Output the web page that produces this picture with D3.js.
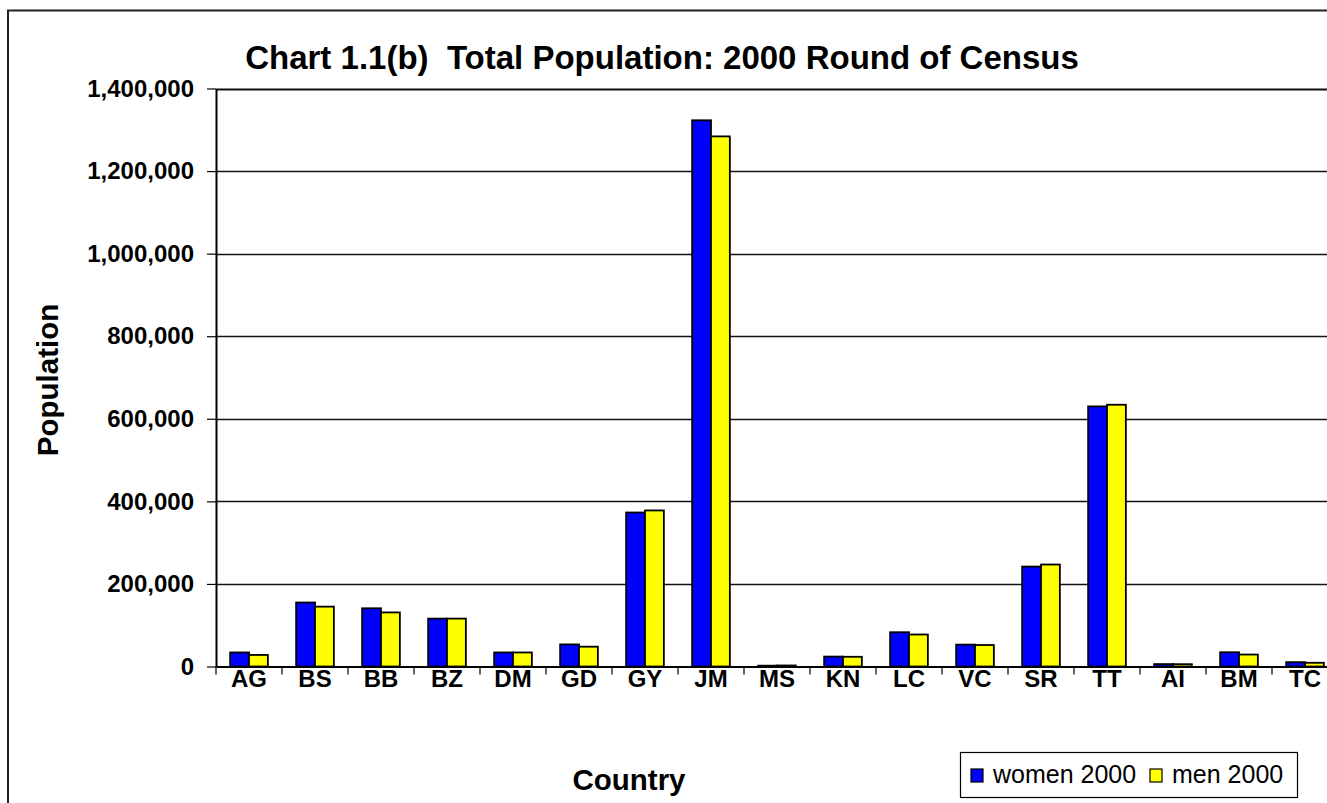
<!DOCTYPE html>
<html><head><meta charset="utf-8">
<script src="https://cdn.jsdelivr.net/npm/d3@7"></script>
<style>body{margin:0;background:#fff;} svg{display:block;font-family:Arial,"Liberation Sans",sans-serif;}</style>
</head><body>
<svg id="c" width="1327" height="803"></svg>
<script>
const categories = ["AG","BS","BB","BZ","DM","GD","GY","JM","MS","KN","LC","VC","SR","TT","AI","BM","TC"];
const women2000 = [34000,155000,141000,116000,34000,53500,373000,1323000,2000,24000,83000,53000,242000,630000,5800,34500,10500];
const men2000   = [28000,145000,131000,116000,34000,48000,378000,1284000,2500,23500,77500,52000,247000,634000,5600,29000,9000];
const seriesNames = ["women 2000","men 2000"];
const seriesColors = ["#0000FF","#FFFF00"];
const yTicks = [0,200000,400000,600000,800000,1000000,1200000,1400000];

const FONT = "Arial, 'Liberation Sans', sans-serif";
const svg = d3.select("#c");
const L = 216, R = 1338, T = 88.5, B = 666.5;

// outer border
svg.append("rect").attr("x",8).attr("y",10.5).attr("width",1340).attr("height",820)
  .attr("fill","none").attr("stroke","#222").attr("stroke-width",2);

const x0 = d3.scaleBand().domain(categories).range([L,R]).padding(0);
const x1 = d3.scaleBand().domain(seriesNames).range([0,x0.bandwidth()]).paddingInner(0).paddingOuter(0.75);
const y = d3.scaleLinear().domain([0,1400000]).range([B,T]);

// gridlines
svg.append("g").selectAll("line").data(yTicks.slice(1)).join("line")
  .attr("x1",L).attr("x2",R).attr("y1",d=>Math.round(y(d))+0.5).attr("y2",d=>Math.round(y(d))+0.5)
  .attr("stroke","#111").attr("stroke-width",d=>d===1400000?2:1.3);

// bars
const data = categories.map((c,i)=>({c, vals:[women2000[i],men2000[i]]}));
const g = svg.append("g").selectAll("g").data(data).join("g")
  .attr("transform",d=>`translate(${x0(d.c)},0)`);
g.selectAll("rect").data(d=>d.vals.map((v,j)=>({v,j}))).join("rect")
  .attr("x",d=>x1(seriesNames[d.j])).attr("width",x1.bandwidth())
  .attr("y",d=>y(d.v)).attr("height",d=>B-y(d.v))
  .attr("fill",d=>seriesColors[d.j]).attr("stroke","#000").attr("stroke-width",1.8);

// y axis
const yAxis = d3.axisLeft(y).tickValues(yTicks).tickFormat(d3.format(",")).tickSize(9).tickSizeOuter(0);
const ya = svg.append("g").attr("transform",`translate(${L},0)`).call(yAxis);
ya.select(".domain").attr("stroke","#000").attr("stroke-width",2);
ya.selectAll(".tick line").attr("stroke","#000").attr("stroke-width",1.2);
ya.selectAll("text").attr("font-size",24).attr("font-weight","bold").attr("fill","#000")
  .attr("x",-22).attr("font-family",FONT);

// x axis
const xAxis = d3.axisBottom(x0).tickSize(0).tickSizeOuter(0);
const xa = svg.append("g").attr("transform",`translate(0,${B})`).call(xAxis);
xa.select(".domain").attr("stroke","#000").attr("stroke-width",2);
xa.selectAll("text").attr("font-size",24).attr("font-weight","bold").attr("fill","#000")
  .attr("y",20).attr("dy",0).attr("font-family",FONT);
// tick marks at category boundaries
svg.append("g").selectAll("line").data(d3.range(categories.length+1)).join("line")
  .attr("x1",i=>L+i*x0.step()).attr("x2",i=>L+i*x0.step())
  .attr("y1",B).attr("y2",B+8).attr("stroke","#000").attr("stroke-width",1.2);

// titles
svg.append("text").attr("x",662).attr("y",69).attr("text-anchor","middle")
  .attr("font-size",33).attr("font-weight","bold").text("Chart 1.1(b)  Total Population: 2000 Round of Census")
  .style("white-space","pre");
svg.append("text").attr("transform","translate(58,380) rotate(-90)").attr("text-anchor","middle")
  .attr("font-size",29.5).attr("font-weight","bold").text("Population");
svg.append("text").attr("x",629).attr("y",790).attr("text-anchor","middle")
  .attr("font-size",29.5).attr("font-weight","bold").text("Country");

// legend
const lg = svg.append("g").attr("transform","translate(960,752)");
lg.append("rect").attr("x",0.5).attr("y",0.5).attr("width",337).attr("height",45).attr("fill","#fff").attr("stroke","#000").attr("stroke-width",1.2);
const lx = [11, 190];
const items = lg.selectAll("g").data(seriesNames).join("g").attr("transform",(d,i)=>`translate(${lx[i]},0)`);
items.append("rect").attr("x",0).attr("y",17).attr("width",12).attr("height",13)
  .attr("fill",(d,i)=>seriesColors[i]).attr("stroke","#000").attr("stroke-width",1.2);
items.append("text").attr("x",22).attr("y",31).attr("font-size",25).text(d=>d);
</script>
</body></html>
